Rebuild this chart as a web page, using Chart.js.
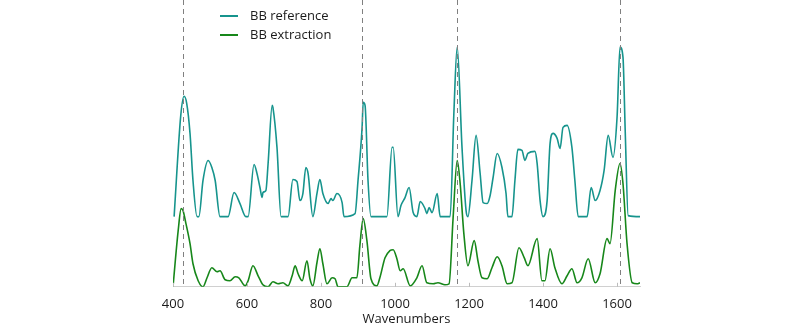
<!DOCTYPE html>
<html>
<head>
<meta charset="utf-8">
<script src="https://cdn.jsdelivr.net/npm/chart.js@4/dist/chart.umd.min.js"></script>
<style>
  html, body { margin: 0; padding: 0; background: #fff; }
  #wrap { width: 800px; height: 334px; }
</style>
</head>
<body>
<div id="wrap"><canvas id="chart"></canvas></div>
<script>
// BB reference spectrum (intensity above its own baseline)
const refX = [403, 421, 430, 437, 446, 454, 465, 470, 481, 495, 505, 514, 527, 549, 565, 581, 597, 603,
  619, 627, 635, 641, 643, 651, 657, 668, 670, 681, 692, 711, 724, 735, 743, 751, 759, 765, 778,
  789, 797, 805, 819, 827, 832, 843, 857, 862, 892, 900, 911, 914, 919, 927, 935, 978, 992, 995,
  1008, 1016, 1027, 1038, 1049, 1059, 1068, 1081, 1086, 1092, 1100, 1114, 1122, 1149, 1159, 1168,
  1181, 1192, 1197, 1208, 1219, 1230, 1238, 1249, 1257, 1265, 1276, 1289, 1300, 1305, 1316, 1324,
  1332, 1343, 1351, 1359, 1378, 1384, 1392, 1400, 1411, 1419, 1427, 1438, 1446, 1454, 1465, 1478,
  1486, 1495, 1519, 1530, 1541, 1554, 1565, 1576, 1589, 1600, 1608, 1616, 1622, 1630, 1662];
const refY = [0, 101, 120, 113, 83, 36, 0, 0, 36, 56, 49, 36, 0, 0, 24, 13, 0, 0,
  52, 43, 29, 19, 24, 26, 53, 111, 109, 69, 0, 0, 37, 35, 16, 23, 49, 43, 0,
  23, 37, 23, 13, 18, 16, 23, 14, 0, 3, 36, 89, 114, 111, 36, 0, 0, 69, 69,
  0, 11, 19, 29, 4, 0, 15, 8, 3, 9, 4, 23, 0, 0, 103, 169,
  69, 6, 0, 36, 81, 43, 14, 13, 21, 39, 63, 49, 23, 0, 0, 36,
  67, 66, 56, 63, 65, 53, 16, 0, 16, 73, 83, 78, 68, 89, 91, 69,
  36, 0, 0, 29, 16, 26, 46, 81, 59, 99, 169, 159, 86, 1, 0];

// BB extraction spectrum
const extX = [400, 414, 422, 427, 435, 446, 454, 468, 481, 492, 505, 519, 527, 541, 554, 568, 578, 595,
  603, 616, 630, 643, 657, 670, 684, 697, 711, 722, 730, 738, 749, 762, 770, 778, 789, 797, 805,
  816, 830, 838, 846, 870, 884, 897, 905, 914, 924, 935, 951, 959, 973, 986, 995, 1005, 1014, 1022,
  1041, 1059, 1073, 1086, 1103, 1116, 1135, 1146, 1157, 1168, 1176, 1186, 1197, 1214, 1224, 1235,
  1249, 1262, 1276, 1289, 1303, 1316, 1335, 1349, 1359, 1384, 1397, 1405, 1419, 1432, 1451, 1465,
  1478, 1492, 1505, 1522, 1541, 1554, 1573, 1581, 1595, 1608, 1616, 1627, 1641, 1654, 1662];
const extY = [0, 56, 78, 76, 63, 43, 23, 6, 0, 9, 19, 15, 16, 7, 6, 10, 9, 1,
  6, 21, 11, 2, 0, 5, 3, 4, 1, 11, 21, 13, 6, 26, 8, 1, 24, 38, 23,
  3, 9, 8, 0, 0, 9, 9, 41, 68, 46, 8, 1, 9, 29, 36, 37, 28, 16, 18,
  1, 9, 21, 4, 3, 4, 2, 3, 69, 126, 103, 53, 21, 46, 26, 9,
  8, 19, 30, 21, 3, 4, 39, 29, 21, 48, 6, 6, 38, 19, 3, 11,
  18, 4, 9, 28, 4, 13, 48, 43, 96, 123, 103, 43, 4, 3, 4];

const refOffset = 70;
const markers = [427, 911, 1168, 1608];
const xTicks = [400, 600, 800, 1000, 1200, 1400, 1600];

const teal = "#16948d";
const green = "#17871a";

const overlay = {
  id: "overlay",
  afterDatasetsDraw(chart) {
    const { ctx, chartArea, scales } = chart;
    ctx.save();
    ctx.strokeStyle = "#808080";
    ctx.lineWidth = 1;
    ctx.setLineDash([5, 4]);
    markers.forEach(m => {
      const x = Math.round(scales.x.getPixelForValue(m)) + 0.5;
      ctx.beginPath();
      ctx.moveTo(x, 0);
      ctx.lineTo(x, chartArea.bottom);
      ctx.stroke();
    });
    ctx.setLineDash([]);
    // small ticks on the axis
    ctx.strokeStyle = "#bbbbbb";
    xTicks.forEach(t => {
      const x = Math.round(scales.x.getPixelForValue(t)) + 0.5;
      ctx.beginPath();
      ctx.moveTo(x, chartArea.bottom - 4);
      ctx.lineTo(x, chartArea.bottom);
      ctx.stroke();
    });
    // legend
    const items = [["BB reference", teal, 16], ["BB extraction", green, 35]];
    ctx.font = "13px 'Open Sans'";
    ctx.textBaseline = "middle";
    items.forEach(([label, color, y]) => {
      ctx.strokeStyle = color;
      ctx.lineWidth = 2;
      ctx.beginPath();
      ctx.moveTo(220, y);
      ctx.lineTo(238, y);
      ctx.stroke();
      ctx.fillStyle = "#1a1a1a";
      ctx.fillText(label, 250, y);
    });
    ctx.restore();
  }
};

new Chart(document.getElementById("chart"), {
  type: "line",
  data: {
    datasets: [{
      label: "BB reference",
      data: refX.map((x, i) => ({ x, y: refY[i] + refOffset })),
      borderColor: teal,
      borderWidth: 1.6,
      pointRadius: 0,
      cubicInterpolationMode: "monotone"
    }, {
      label: "BB extraction",
      data: extX.map((x, i) => ({ x, y: extY[i] })),
      borderColor: green,
      borderWidth: 1.6,
      pointRadius: 0,
      cubicInterpolationMode: "monotone"
    }]
  },
  options: {
    responsive: true,
    maintainAspectRatio: false,
    animation: false,
    layout: { padding: { left: 173, right: 160, top: 0, bottom: 7 } },
    plugins: {
      legend: { display: false },
      tooltip: { enabled: false }
    },
    scales: {
      x: {
        type: "linear",
        min: 400,
        max: 1662,
        afterBuildTicks: scale => {
          scale.ticks = xTicks.map(v => ({ value: v }));
        },
        grid: { display: false },
        border: { display: true, color: "#d0d0d0" },
        ticks: {
          color: "#1a1a1a",
          font: { family: "'Open Sans'", size: 13 },
          padding: 2,
          maxRotation: 0,
          callback: v => String(v)
        },
        title: {
          display: true,
          text: "Wavenumbers",
          color: "#1a1a1a",
          font: { family: "'Open Sans'", size: 13 },
          padding: { top: -3, bottom: 0 }
        }
      },
      y: {
        display: false,
        min: 0,
        max: 286
      }
    }
  },
  plugins: [overlay]
});
</script>
</body>
</html>
